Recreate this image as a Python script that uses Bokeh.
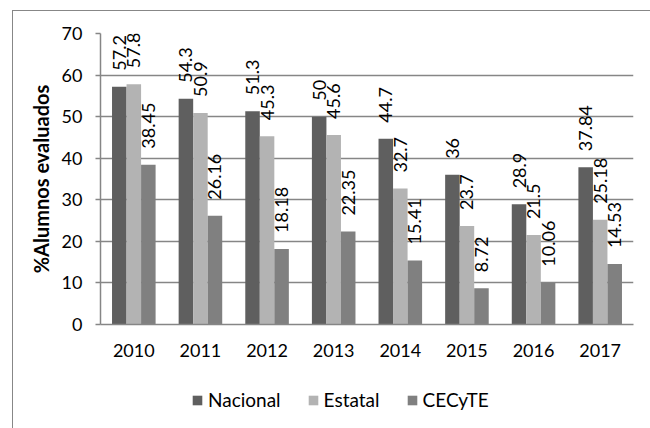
import math
from bokeh.plotting import figure
from bokeh.layouts import column
from bokeh.models import ColumnDataSource, Range1d, FactorRange, FixedTicker, Legend, LegendItem
from bokeh.transform import dodge
from bokeh.core.properties import value
from bokeh.embed import file_html
from bokeh.resources import INLINE

years = ["2010", "2011", "2012", "2013", "2014", "2015", "2016", "2017"]
nacional = [57.2, 54.3, 51.3, 50, 44.7, 36, 28.9, 37.84]
estatal = [57.8, 50.9, 45.3, 45.6, 32.7, 23.7, 21.5, 25.18]
cecyte = [38.45, 26.16, 18.18, 22.35, 15.41, 8.72, 10.06, 14.53]
series_names = ["Nacional", "Estatal", "CECyTE"]
colors = ["#5f5f5f", "#b3b3b3", "#808080"]
y_ticks = [0, 10, 20, 30, 40, 50, 60, 70]

FONT = "Lato"

src = ColumnDataSource(dict(
    year=years,
    nacional=nacional, estatal=estatal, cecyte=cecyte,
    nacional_lbl=[f"{v:g}" for v in nacional],
    estatal_lbl=[f"{v:g}" for v in estatal],
    cecyte_lbl=[f"{v:g}" for v in cecyte],
))

chart = figure(
    x_range=FactorRange(*years, range_padding=0),
    y_range=Range1d(0, 70),
    width=637, height=372,
    output_backend="svg", toolbar_location=None,
    min_border_left=87, min_border_right=17, min_border_top=22, min_border_bottom=59,
)
chart.outline_line_color = None
chart.background_fill_color = "white"
chart.border_fill_color = "white"

bw = 0.218
offsets = [-bw, 0.0, bw]
cols = ["nacional", "estatal", "cecyte"]
for col, color, off in zip(cols, colors, offsets):
    chart.vbar(x=dodge("year", off, range=chart.x_range), top=col, width=bw,
               source=src, fill_color=color, line_color=None)
    chart.text(x=dodge("year", off, range=chart.x_range), y=col, text=col + "_lbl",
               source=src, angle=math.pi / 2, text_align="left", text_baseline="middle",
               y_offset=-16, text_font=value(FONT), text_font_size="18px", text_color="black")

# axes
chart.yaxis.ticker = FixedTicker(ticks=y_ticks)
chart.yaxis.axis_line_color = "#868686"
chart.yaxis.axis_line_width = 1.5
chart.yaxis.major_tick_line_color = "#868686"
chart.yaxis.major_tick_line_width = 1.5
chart.yaxis.major_tick_out = 5
chart.yaxis.major_tick_in = 0
chart.yaxis.minor_tick_line_color = None
chart.yaxis.major_label_standoff = 13
chart.yaxis.major_label_text_font = FONT
chart.yaxis.major_label_text_font_size = "18px"
chart.yaxis.major_label_text_color = "black"
chart.yaxis.axis_label = "%Alumnos evaluados"
chart.yaxis.axis_label_text_font = FONT
chart.yaxis.axis_label_text_font_style = "bold"
chart.yaxis.axis_label_text_font_size = "20px"
chart.yaxis.axis_label_text_color = "black"
chart.yaxis.axis_label_standoff = 6

chart.xaxis.axis_line_color = "#868686"
chart.xaxis.axis_line_width = 1.5
chart.xaxis.major_tick_line_color = None
chart.xaxis.minor_tick_line_color = None
chart.xaxis.major_label_standoff = 13
chart.xaxis.major_label_text_font = FONT
chart.xaxis.major_label_text_font_size = "18px"
chart.xaxis.major_label_text_color = "black"

chart.xgrid.grid_line_color = None
chart.ygrid.grid_line_color = "#868686"
chart.ygrid.grid_line_width = 1.5

# legend strip (a second, axis-less figure holding only the legend)
leg = figure(width=637, height=45, output_backend="svg", toolbar_location=None,
             x_range=Range1d(1, 2), y_range=Range1d(1, 2),
             x_axis_location=None, y_axis_location=None,
             min_border_left=0, min_border_right=0, min_border_top=0, min_border_bottom=0)
leg.outline_line_color = None
leg.grid.visible = False
items = []
for name, color in zip(series_names, colors):
    # zero-size swatch renderer outside the visible range; only feeds the legend glyph
    r = leg.vbar(x=[0], top=[0], width=0, fill_color=color, line_color=None)
    items.append(LegendItem(label=name, renderers=[r]))
legend = Legend(items=items, orientation="horizontal", location=(91, 17),
                glyph_width=12, glyph_height=12, label_standoff=5, spacing=26,
                padding=0, margin=0, border_line_color=None, background_fill_alpha=0,
                label_text_font=FONT, label_text_font_size="19px", label_text_color="black")
leg.add_layout(legend, "center")

p = column(chart, leg, spacing=0)
p.margin = (10, 0, 0, 12)
p.styles = {"border-left": "1px solid #878787", "border-top": "1px solid #878787"}

open("out.html", "w").write(file_html(p, INLINE))
